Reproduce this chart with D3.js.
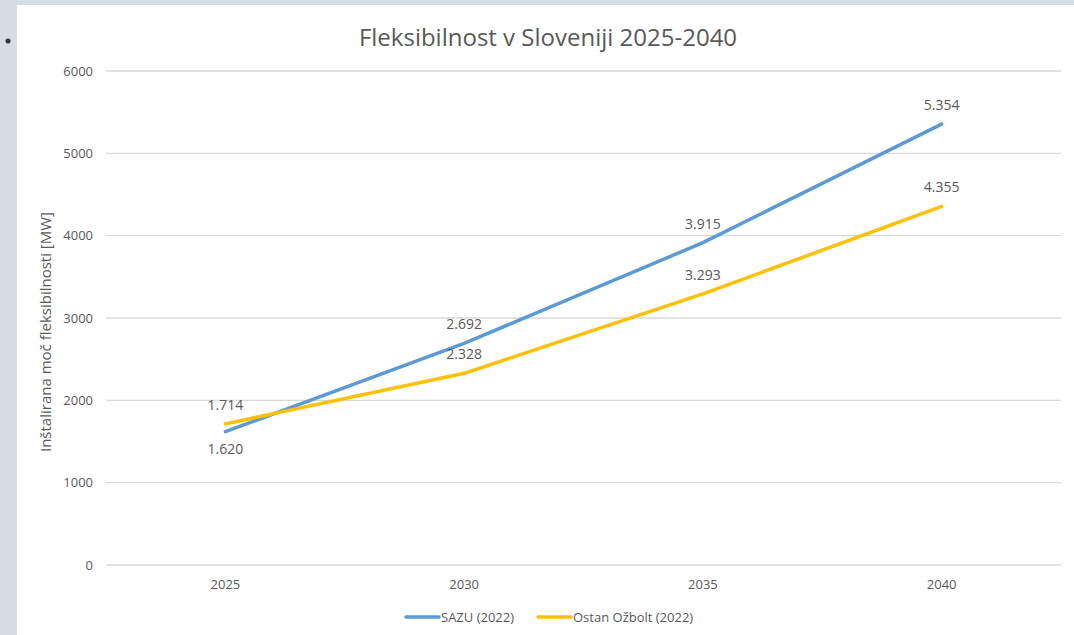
<!DOCTYPE html>
<html>
<head>
<meta charset="utf-8">
<script src="https://cdn.jsdelivr.net/npm/d3@7/dist/d3.min.js"></script>
<style>
  html, body { margin: 0; padding: 0; background: #d6dce4; }
  svg { display: block; }
  text { font-family: "Open Sans", "Liberation Sans", sans-serif; fill: #595959; }
</style>
</head>
<body>
<svg id="chart" width="1074" height="635"></svg>
<script>
// Chart data
const years = ["2025", "2030", "2035", "2040"];
const sazu = [1620, 2692, 3915, 5354];
const ozbolt = [1714, 2328, 3293, 4355];
const yTicks = [0, 1000, 2000, 3000, 4000, 5000, 6000];
const seriesNames = ["SAZU (2022)", "Ostan Ožbolt (2022)"];
const colors = ["#5b9bd5", "#ffc000"];
// label placement for each point: true = below the line
const sazuBelow = [true, false, false, false];
const ozboltBelow = [false, false, false, false];

const svg = d3.select("#chart");

// slide-like page behind the chart
svg.append("rect").attr("x", 0).attr("y", 0).attr("width", 1074).attr("height", 635).attr("fill", "#d6dce4");
svg.append("rect").attr("x", 17).attr("y", 5).attr("width", 1057).attr("height", 630).attr("fill", "#ffffff");
svg.append("circle").attr("cx", 8).attr("cy", 41).attr("r", 2.5).attr("fill", "#333");

const x = d3.scaleBand().domain(years).range([106, 1061]);
const y = d3.scaleLinear().domain([0, 6000]).range([565, 71]);

// gridlines
svg.append("g").selectAll("line").data(yTicks).join("line")
  .attr("x1", 106).attr("x2", 1061)
  .attr("y1", d => y(d)).attr("y2", d => y(d))
  .attr("stroke", "#d9d9d9").attr("stroke-width", 1.3);

// y axis
const yAxis = d3.axisLeft(y).tickValues(yTicks).tickSize(0).tickPadding(0).tickFormat(d3.format("d"));
const gy = svg.append("g").attr("transform", "translate(93,0)").call(yAxis);
gy.select(".domain").remove();
gy.selectAll("text").attr("font-size", 13).attr("fill", "#595959")
  .style("font-family", "'Open Sans', sans-serif");

// x axis
const xAxis = d3.axisBottom(x).tickSize(0).tickPadding(0);
const gx = svg.append("g").attr("transform", "translate(0,580)").call(xAxis);
gx.select(".domain").remove();
gx.selectAll("text").attr("font-size", 13).attr("fill", "#595959")
  .style("font-family", "'Open Sans', sans-serif");

// title
svg.append("text").attr("x", 548).attr("y", 46).attr("text-anchor", "middle")
  .attr("font-size", 24).text("Fleksibilnost v Sloveniji 2025-2040");

// y axis title
svg.append("text").attr("transform", "translate(51,332) rotate(-90)")
  .attr("text-anchor", "middle").attr("font-size", 15)
  .text("Inštalirana moč fleksibilnosti [MW]");

const line = d3.line().x((d, i) => x(years[i]) + x.bandwidth() / 2).y(d => y(d));
const fmt = v => d3.format(",")(v).replace(",", ".");

[[sazu, sazuBelow], [ozbolt, ozboltBelow]].forEach(([vals, below], k) => {
  svg.append("path").datum(vals).attr("d", line)
    .attr("fill", "none").attr("stroke", colors[k]).attr("stroke-width", 3.5)
    .attr("stroke-linecap", "round").attr("stroke-linejoin", "round");
  svg.append("g").selectAll("text").data(vals).join("text")
    .attr("x", (d, i) => x(years[i]) + x.bandwidth() / 2)
    .attr("y", (d, i) => y(d) + (below[i] ? 22 : -14))
    .attr("text-anchor", "middle").attr("font-size", 14)
    .text(d => fmt(d));
});

// legend
const legend = svg.append("g").attr("transform", "translate(0,617)");
const legendX = [406, 538];
seriesNames.forEach((name, k) => {
  legend.append("line").attr("x1", legendX[k]).attr("x2", legendX[k] + 33)
    .attr("y1", 0).attr("y2", 0).attr("stroke", colors[k]).attr("stroke-width", 3.5)
    .attr("stroke-linecap", "round");
  legend.append("text").attr("x", legendX[k] + 35).attr("y", 5)
    .attr("font-size", 13).text(name);
});
</script>
</body>
</html>
